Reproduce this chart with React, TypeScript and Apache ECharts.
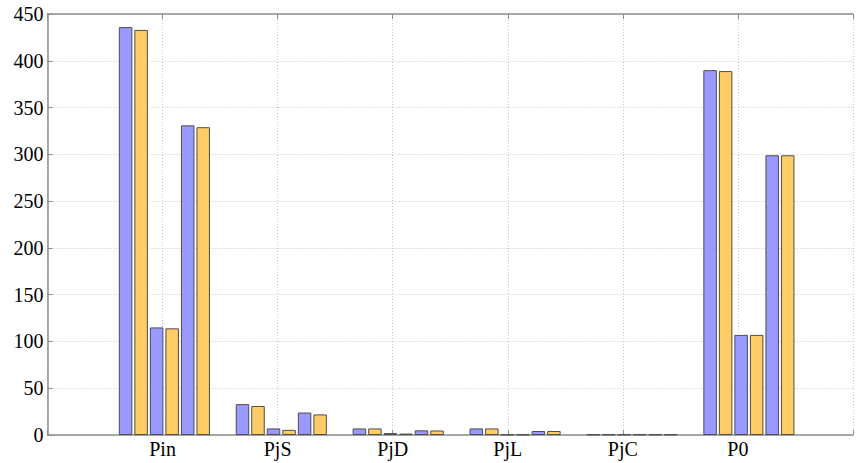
import React, { useEffect, useRef } from "react";
import * as echarts from "echarts";

const categories = ["Pin", "PjS", "PjD", "PjL", "PjC", "P0"];
const yTicks = { min: 0, max: 450, interval: 50 };
const seriesA1 = [436, 33, 7, 7, 0.6, 390];
const seriesB1 = [433, 31, 7, 7, 0.6, 389];
const seriesA2 = [115, 7, 2, 0.5, 0.6, 107];
const seriesB2 = [114, 5.5, 1.5, 0.5, 0.6, 107];
const seriesA3 = [331, 24, 5, 4.3, 0.6, 299];
const seriesB3 = [329, 22, 4.8, 4.3, 0.6, 299];
const seriesList = [seriesA1, seriesB1, seriesA2, seriesB2, seriesA3, seriesB3];
const seriesNames = ["A1", "B1", "A2", "B2", "A3", "B3"];

const BLUE = "#9999ff";
const YELLOW = "#ffcc66";
const FONT = "Liberation Serif";

export default function App() {
  const ref = useRef<HTMLDivElement>(null);
  useEffect(() => {
    if (!ref.current) return;
    const chart = echarts.init(ref.current, undefined, { renderer: "svg" });
    const left = 47.5;
    const top = 14;
    const height = 421;
    const step = 116.9;
    const n = categories.length;
    const axisLine = { show: true, lineStyle: { color: "#8c8c8c", width: 1.5 } };
    const tick = { show: true, inside: true, length: 5, lineStyle: { color: "#8c8c8c", width: 1 } };
    const split = { show: true, lineStyle: { color: "#c4c4c4", type: [1, 2], width: 1 } };
    chart.setOption({
      animation: false,
      grid: [
        { left, top, width: step * (n + 1), height, containLabel: false },
        { left: left + step / 2, top, width: step * n, height, containLabel: false },
      ],
      xAxis: [
        {
          type: "value",
          gridIndex: 0,
          min: 0,
          max: n + 1,
          interval: 1,
          position: "bottom",
          axisLine,
          axisTick: tick,
          splitLine: split,
          axisLabel: {
            color: "#000",
            fontFamily: FONT,
            fontSize: 20,
            margin: 4,
            formatter: (v: number) => categories[v - 1] ?? "",
          },
        },
        {
          type: "value",
          gridIndex: 0,
          min: 0,
          max: n + 1,
          interval: 1,
          position: "top",
          axisLine,
          axisTick: tick,
          splitLine: { show: false },
          axisLabel: { show: false },
        },
        {
          type: "category",
          gridIndex: 1,
          data: categories,
          show: false,
        },
      ],
      yAxis: [
        {
          type: "value",
          gridIndex: 0,
          ...yTicks,
          axisLine,
          axisTick: tick,
          splitLine: split,
          axisLabel: { color: "#000", fontFamily: FONT, fontSize: 20, margin: 4 },
        },
        {
          type: "value",
          gridIndex: 1,
          ...yTicks,
          show: false,
          splitLine: { show: false },
        },
      ],
      series: seriesList.map((data, i) => ({
        name: seriesNames[i],
        type: "bar",
        xAxisIndex: 2,
        yAxisIndex: 1,
        data,
        barWidth: 13.5,
        barGap: "15%",
        itemStyle: {
          color: i % 2 === 0 ? BLUE : YELLOW,
          borderColor: "#4d4d4d",
          borderWidth: 1,
        },
      })),
    });
    return () => chart.dispose();
  }, []);
  return (
    <div
      ref={ref}
      style={{ position: "absolute", left: 0, top: 0, width: 856, height: 463, background: "#fff" }}
    />
  );
}
